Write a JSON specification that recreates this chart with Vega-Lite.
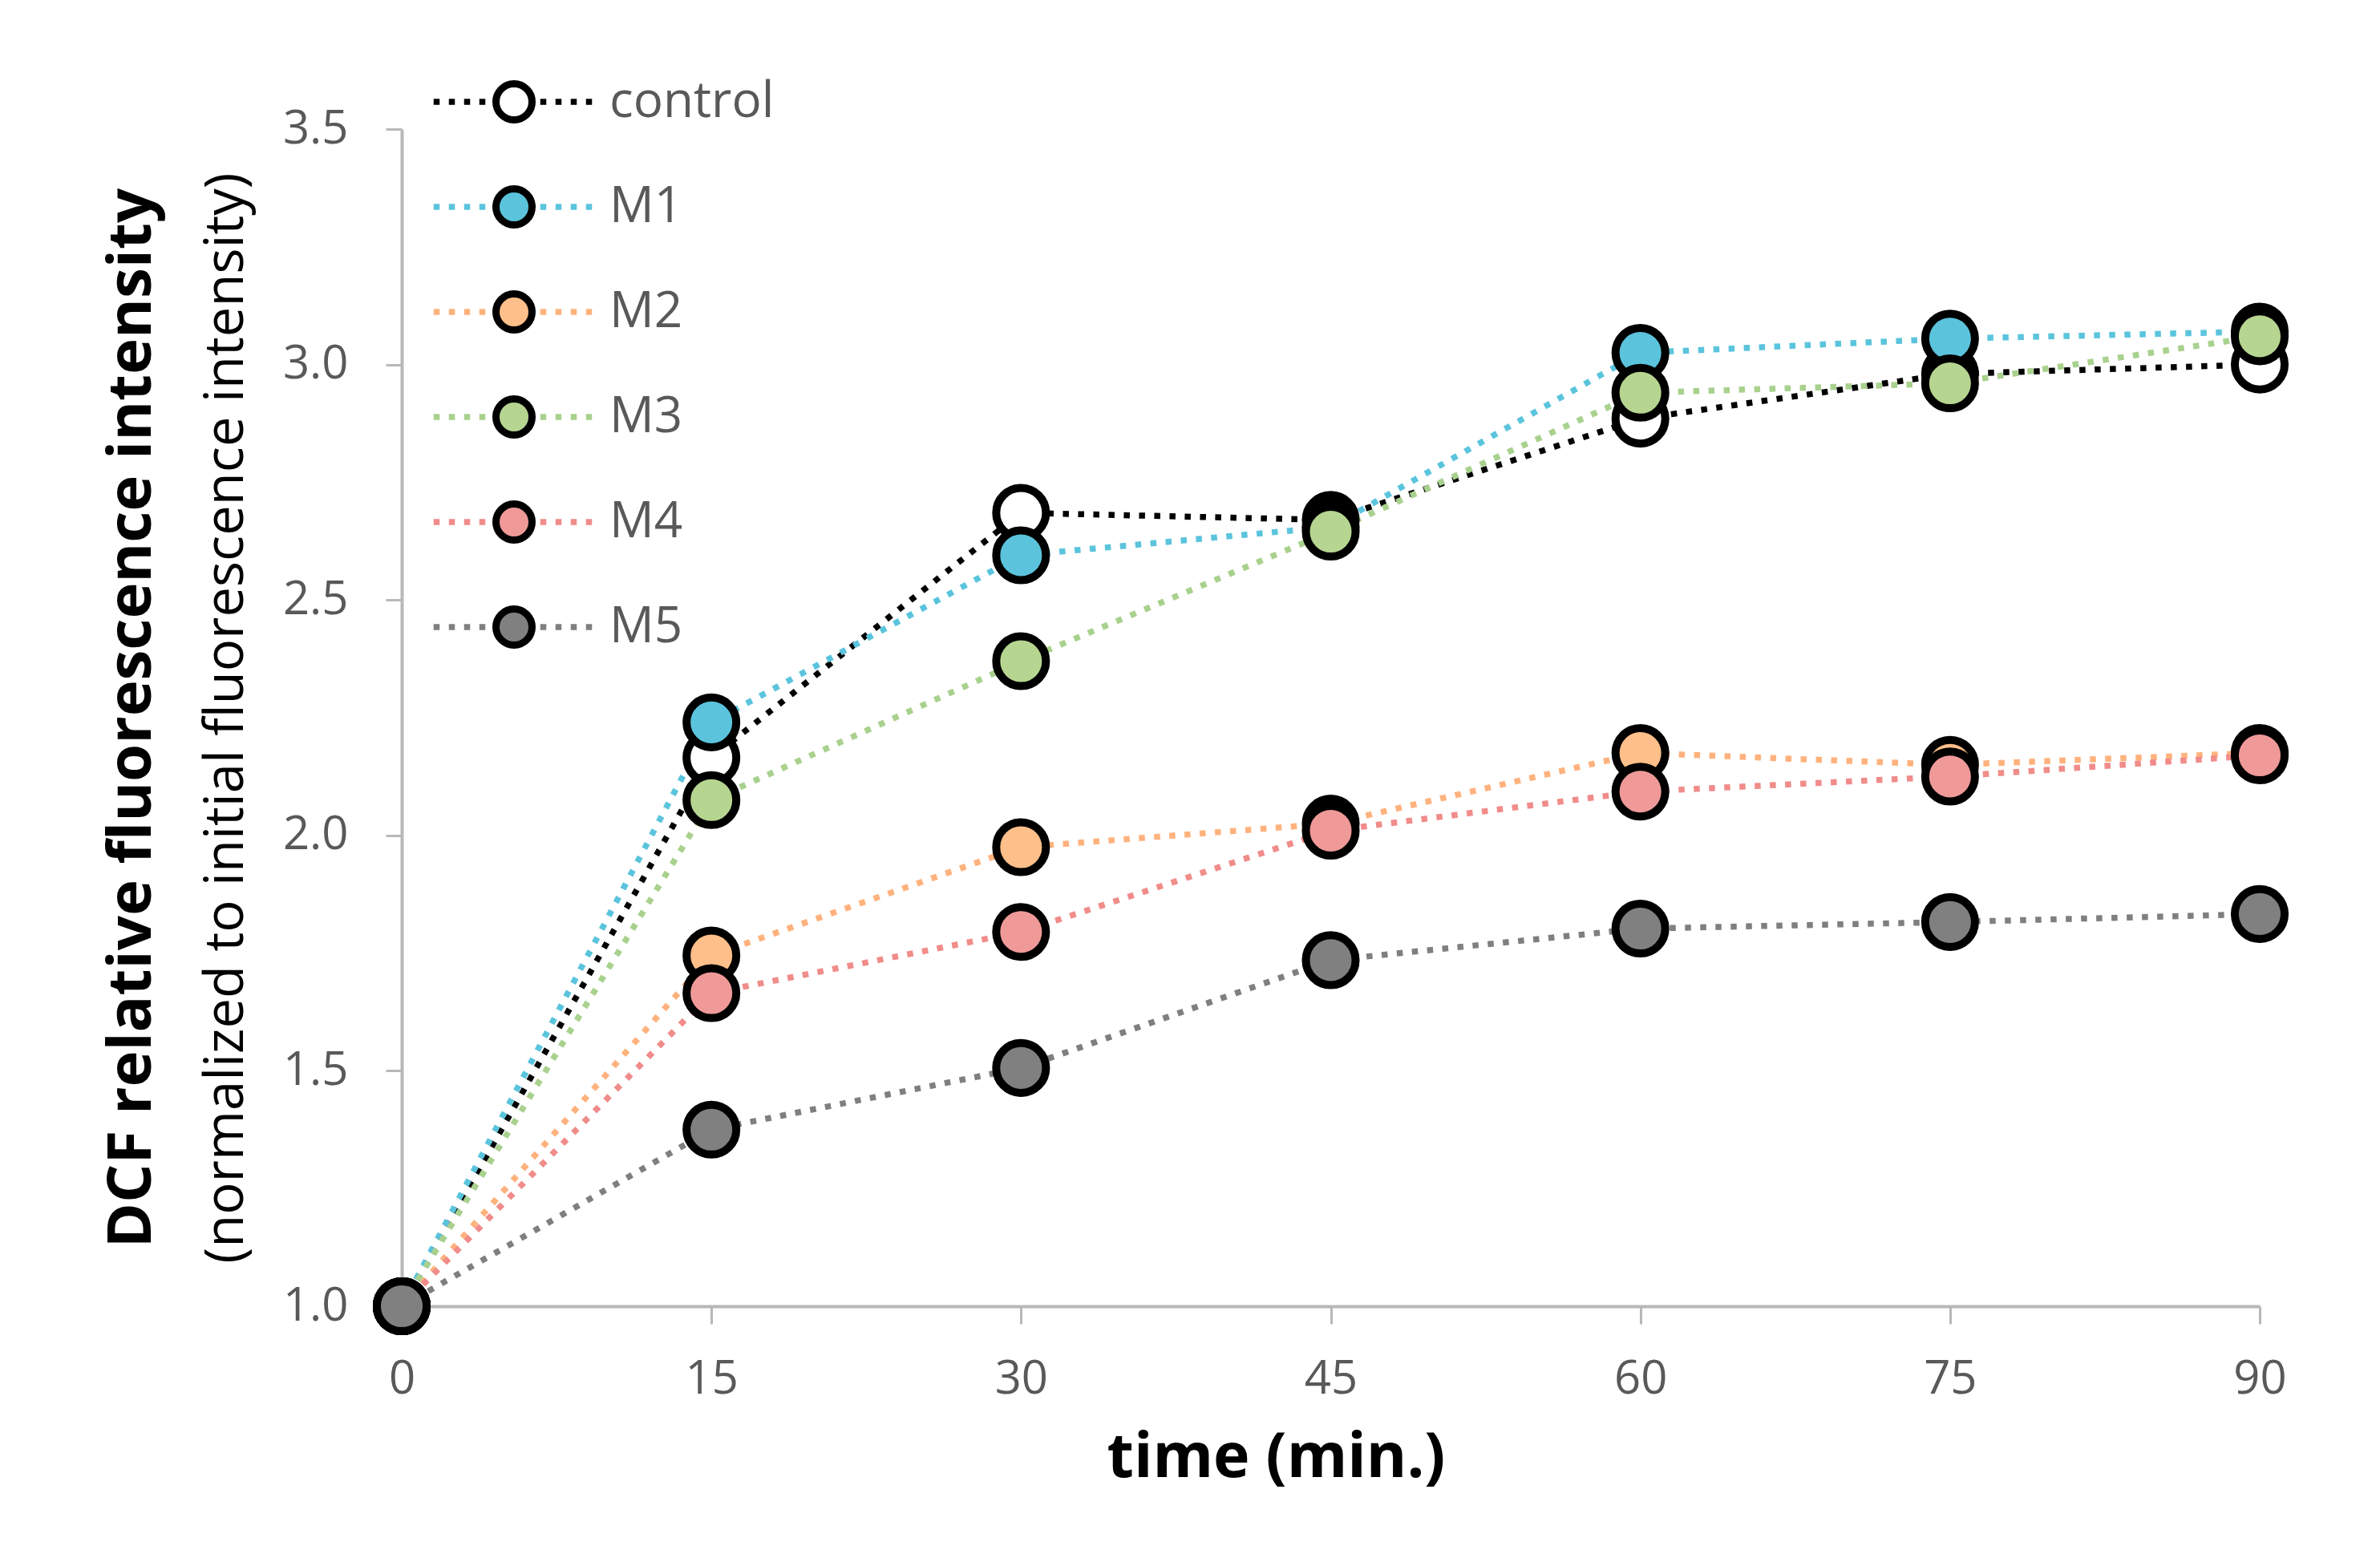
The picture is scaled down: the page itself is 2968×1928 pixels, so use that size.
{
  "$schema": "https://vega.github.io/schema/vega-lite/v6.json",
  "autosize": "none",
  "width": 2317,
  "height": 1468,
  "padding": {"left": 501, "top": 161, "right": 150, "bottom": 299},
  "background": "white",
  "config": {
    "view": {"stroke": null},
    "font": "Open Sans"
  },
  "data": {
    "values": [
      {"series": "control", "time": 0, "value": 1.0},
      {"series": "control", "time": 15, "value": 2.165},
      {"series": "control", "time": 30, "value": 2.685},
      {"series": "control", "time": 45, "value": 2.67},
      {"series": "control", "time": 60, "value": 2.885},
      {"series": "control", "time": 75, "value": 2.98},
      {"series": "control", "time": 90, "value": 3.0},
      {"series": "M1", "time": 0, "value": 1.0},
      {"series": "M1", "time": 15, "value": 2.24},
      {"series": "M1", "time": 30, "value": 2.595},
      {"series": "M1", "time": 45, "value": 2.655},
      {"series": "M1", "time": 60, "value": 3.025},
      {"series": "M1", "time": 75, "value": 3.055},
      {"series": "M1", "time": 90, "value": 3.07},
      {"series": "M2", "time": 0, "value": 1.0},
      {"series": "M2", "time": 15, "value": 1.745},
      {"series": "M2", "time": 30, "value": 1.975},
      {"series": "M2", "time": 45, "value": 2.025},
      {"series": "M2", "time": 60, "value": 2.175},
      {"series": "M2", "time": 75, "value": 2.15},
      {"series": "M2", "time": 90, "value": 2.175},
      {"series": "M3", "time": 0, "value": 1.0},
      {"series": "M3", "time": 15, "value": 2.075},
      {"series": "M3", "time": 30, "value": 2.37},
      {"series": "M3", "time": 45, "value": 2.645},
      {"series": "M3", "time": 60, "value": 2.94},
      {"series": "M3", "time": 75, "value": 2.96},
      {"series": "M3", "time": 90, "value": 3.06},
      {"series": "M4", "time": 0, "value": 1.0},
      {"series": "M4", "time": 15, "value": 1.665},
      {"series": "M4", "time": 30, "value": 1.795},
      {"series": "M4", "time": 45, "value": 2.01},
      {"series": "M4", "time": 60, "value": 2.093},
      {"series": "M4", "time": 75, "value": 2.125},
      {"series": "M4", "time": 90, "value": 2.17},
      {"series": "M5", "time": 0, "value": 1.0},
      {"series": "M5", "time": 15, "value": 1.375},
      {"series": "M5", "time": 30, "value": 1.506},
      {"series": "M5", "time": 45, "value": 1.735},
      {"series": "M5", "time": 60, "value": 1.802},
      {"series": "M5", "time": 75, "value": 1.816},
      {"series": "M5", "time": 90, "value": 1.833}
    ]
  },
  "resolve": {"axis": {"y": "independent"}},
  "layer": [
    {
      "mark": {"type": "line", "strokeWidth": 7.5, "strokeDash": [7.5, 11.5]},
      "encoding": {
        "x": {
          "field": "time", "type": "quantitative",
          "scale": {"domain": [0, 90], "nice": false},
          "axis": {
            "values": [0, 15, 30, 45, 60, 75, 90],
            "title": "time (min.)",
            "grid": false,
            "labelFlush": false,
            "domainColor": "#b8b8b8", "domainWidth": 4,
            "tickColor": "#b8b8b8", "tickWidth": 3, "tickSize": 22,
            "labelFont": "Open Sans", "labelFontSize": 58, "labelColor": "#595959", "labelPadding": 40,
            "titleFont": "Open Sans", "titleFontSize": 77, "titleFontWeight": "bold", "titleColor": "#000000",
            "titleX": 1090, "titleY": 212, "titleBaseline": "alphabetic", "titleAlign": "center"
          }
        },
        "y": {
          "field": "value", "type": "quantitative",
          "scale": {"domain": [1, 3.5], "nice": false, "zero": false},
          "axis": {
            "orient": "left",
            "values": [1, 1.5, 2, 2.5, 3, 3.5],
            "format": ".1f",
            "title": "DCF relative fluorescence intensity",
            "grid": false,
            "labelFlush": false,
            "domainColor": "#b8b8b8", "domainWidth": 4,
            "tickColor": "#b8b8b8", "tickWidth": 3, "tickSize": 20,
            "labelFont": "Open Sans", "labelFontSize": 58, "labelColor": "#595959", "labelPadding": 47,
            "titleFont": "Open Sans", "titleFontSize": 76, "titleFontWeight": "bold", "titleColor": "#000000",
            "titleX": -314, "titleY": 734, "titleBaseline": "alphabetic", "titleAlign": "center", "titleAngle": -90
          }
        },
        "detail": {"field": "series"},
        "stroke": {
          "field": "series", "type": "nominal",
          "scale": {
            "domain": ["control", "M1", "M2", "M3", "M4", "M5"],
            "range": ["#000000", "#5BC4DD", "#FFB27D", "#A9D18E", "#F08C8A", "#7F7F7F"]
          },
          "legend": {
            "orient": "none", "legendX": 110, "legendY": -65,
            "title": null,
            "values": ["control", "M1", "M2", "M3", "M4", "M5"],
            "symbolType": "M-4.5,0H4.5",
            "symbolSize": 2025,
            "symbolStrokeWidth": 7.5,
            "symbolDash": [7.5, 11.5],
            "symbolFillColor": "transparent",
            "labelExpr": "''",
            "labelFont": "Open Sans", "labelFontSize": 62,
            "labelOffset": 88,
            "rowPadding": 69, "padding": 0,
            "zindex": 1
          }
        }
      }
    },
    {
      "mark": {"type": "circle", "size": 3850, "stroke": "#000000", "strokeWidth": 10, "opacity": 1},
      "encoding": {
        "x": {"field": "time", "type": "quantitative"},
        "y": {
          "field": "value", "type": "quantitative",
          "axis": {
            "orient": "left",
            "title": "(normalized to initial fluorescence intensity)",
            "labels": false, "ticks": false, "domain": false, "grid": false,
            "titleFont": "Open Sans", "titleFontSize": 67, "titleFontWeight": "normal", "titleColor": "#000000",
            "titleX": -199, "titleY": 734, "titleBaseline": "alphabetic", "titleAlign": "center", "titleAngle": -90
          }
        },
        "fill": {
          "field": "series", "type": "nominal",
          "scale": {
            "range": ["#5BC3DB", "#FFBF8A", "#B6D591", "#EF9A98", "#808080", "#FFFFFF"]
          },
          "legend": {
            "orient": "none", "legendX": 109, "legendY": -65,
            "title": null,
            "values": ["control", "M1", "M2", "M3", "M4", "M5"],
            "symbolType": "circle",
            "symbolSize": 2025,
            "symbolStrokeColor": "#000000",
            "symbolStrokeWidth": 9,
            "symbolOpacity": 1,
            "labelFont": "Open Sans", "labelFontSize": 62, "labelColor": "#595959",
            "labelLimit": 500,
            "labelOffset": 88,
            "rowPadding": 49, "padding": 0,
            "zindex": 2
          }
        }
      }
    }
  ]
}
